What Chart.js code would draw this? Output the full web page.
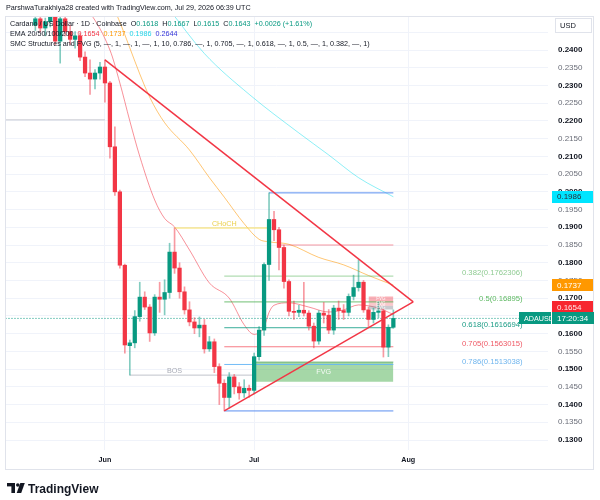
<!DOCTYPE html>
<html>
<head>
<meta charset="utf-8">
<script src="https://cdn.jsdelivr.net/npm/chart.js@4.4.1/dist/chart.umd.min.js"></script>
<style>
html,body{margin:0;padding:0;background:#ffffff;}
#wrap{position:relative;width:600px;height:500px;}
canvas{display:block;}
</style>
</head>
<body>
<div id="wrap"><canvas id="chart" width="600" height="500"></canvas></div>
<script>
// ================= DATA =================
const candleDates = [
 '05-18','05-19','05-20','05-21','05-22','05-23','05-24','05-25','05-26','05-27','05-28','05-29','05-30','05-31',
 '06-01','06-02','06-03','06-04','06-05','06-06','06-07','06-08','06-09','06-10','06-11','06-12','06-13','06-14','06-15',
 '06-16','06-17','06-18','06-19','06-20','06-21','06-22','06-23','06-24','06-25','06-26','06-27','06-28','06-29','06-30',
 '07-01','07-02','07-03','07-04','07-05','07-06','07-07','07-08','07-09','07-10','07-11','07-12','07-13','07-14','07-15',
 '07-16','07-17','07-18','07-19','07-20','07-21','07-22','07-23','07-24','07-25','07-26','07-27','07-28','07-29'];
const openPrices = [
 0.2470,0.2488,0.2462,0.2480,0.2495,0.2425,0.2488,0.2452,0.2430,0.2440,0.2380,0.2335,0.2318,0.2335,
 0.2352,0.2307,0.2127,0.2000,0.1793,0.1566,0.1574,0.1648,0.1703,0.1675,0.1602,0.1703,0.1697,0.1716,0.1830,
 0.1785,0.1718,0.1667,0.1633,0.1616,0.1624,0.1557,0.1577,0.1507,0.1460,0.1420,0.1478,0.1450,0.1433,0.1446,
 0.1440,0.1535,0.1610,0.1795,0.1922,0.1893,0.1843,0.1747,0.1663,0.1660,0.1666,0.1658,0.1621,0.1579,0.1658,
 0.1652,0.1610,0.1672,0.1665,0.1660,0.1705,0.1730,0.1745,0.1667,0.1640,0.1660,0.1664,0.1562,0.1618];
const highPrices = [
 0.2500,0.2498,0.2490,0.2505,0.2500,0.2502,0.2495,0.2470,0.2452,0.2448,0.2395,0.2372,0.2345,0.2365,
 0.2372,0.2312,0.2183,0.2005,0.1796,0.1582,0.1665,0.1745,0.1718,0.1682,0.1710,0.1745,0.1752,0.1855,0.1898,
 0.1800,0.1732,0.1690,0.1645,0.1647,0.1640,0.1592,0.1585,0.1515,0.1470,0.1490,0.1485,0.1462,0.1470,0.1455,
 0.1545,0.1620,0.1800,0.1997,0.1945,0.1900,0.1850,0.1752,0.1692,0.1680,0.1745,0.1665,0.1630,0.1665,0.1688,
 0.1668,0.1680,0.1692,0.1682,0.1712,0.1765,0.1808,0.1750,0.1675,0.1672,0.1690,0.1670,0.1625,0.1667];
const lowPrices = [
 0.2455,0.2450,0.2440,0.2465,0.2415,0.2363,0.2440,0.2415,0.2405,0.2370,0.2325,0.2275,0.2290,0.2318,
 0.2253,0.2095,0.1990,0.1785,0.1545,0.1483,0.1560,0.1635,0.1668,0.1578,0.1595,0.1660,0.1653,0.1700,0.1770,
 0.1700,0.1655,0.1622,0.1600,0.1591,0.1545,0.1550,0.1490,0.1400,0.1382,0.1390,0.1430,0.1415,0.1420,0.1420,
 0.1430,0.1525,0.1595,0.1750,0.1862,0.1780,0.1728,0.1650,0.1640,0.1648,0.1650,0.1610,0.1560,0.1570,0.1630,
 0.1600,0.1598,0.1640,0.1640,0.1650,0.1695,0.1720,0.1660,0.1620,0.1630,0.1645,0.1534,0.1535,0.1615];
const closePrices = [
 0.2488,0.2462,0.2480,0.2495,0.2425,0.2488,0.2452,0.2430,0.2440,0.2380,0.2335,0.2318,0.2335,0.2352,
 0.2307,0.2127,0.2000,0.1793,0.1568,0.1574,0.1648,0.1703,0.1675,0.1602,0.1703,0.1697,0.1716,0.1830,0.1785,
 0.1718,0.1667,0.1633,0.1616,0.1624,0.1557,0.1577,0.1507,0.1460,0.1420,0.1478,0.1450,0.1433,0.1446,0.1440,
 0.1535,0.1610,0.1795,0.1922,0.1893,0.1843,0.1747,0.1663,0.1660,0.1666,0.1658,0.1621,0.1579,0.1658,0.1652,
 0.1610,0.1672,0.1665,0.1660,0.1705,0.1730,0.1745,0.1667,0.1640,0.1660,0.1664,0.1562,0.1618,0.1643];

// EMA lines (read at sample dates)
const ema20Dates  = ['05-20','05-27','06-02','06-04','06-06','06-08','06-11','06-13','06-15','06-18','06-22','06-26','06-29','07-01','07-03','07-04','07-05','07-08','07-12','07-16','07-19','07-22','07-26','07-29'];
const ema20Values = [0.2620,0.2541,0.2400,0.2307,0.2200,0.2100,0.1977,0.1925,0.1901,0.1836,0.1743,0.1700,0.1625,0.1598,0.1619,0.1660,0.1680,0.1687,0.1675,0.1661,0.1667,0.1681,0.1672,0.1654];
const ema50Dates  = ['05-20','06-02','06-10','06-13','06-18','06-22','06-25','06-29','07-02','07-04','07-08','07-14','07-19','07-24','07-29'];
const ema50Values = [0.2800,0.2541,0.2267,0.2195,0.2118,0.2040,0.1985,0.1910,0.1866,0.1859,0.1852,0.1815,0.1794,0.1764,0.1737];
const ema100Dates  = ['06-06','06-14','06-21','06-30','07-10','07-16','07-22','07-29'];
const ema100Values = [0.2650,0.2513,0.2390,0.2275,0.2166,0.2104,0.2040,0.1986];

// Structure / drawings
const triUpperDates = ['06-01','08-02'];
const triUpperPrices = [0.2372,0.16895];
const triLowerDates = ['06-25','08-02'];
const triLowerPrices = [0.1382,0.16895];

const fibLevels = [0.382,0.5,0.618,0.705,0.786];
const fibPrices = [0.1762306,0.16895,0.1616694,0.1563015,0.1513038];
const fibRange = ['06-25','07-29'];
const swingHigh = 0.1997, swingHighRange = ['07-04','07-29'];
const swingLow = 0.1382, swingLowRange = ['06-25','07-29'];
const redLevel = 0.1850, redLevelRange = ['07-06','07-29'];
const chochPrice = 0.1898, chochRange = ['06-15','07-04'], chochLabelDate = '06-25';
const bosPrice = 0.1483, bosRange = ['06-06','07-01'], bosLabelDate = '06-15';
const oldLevel = 0.2203, oldLevelRange = ['05-12','06-01'];
const fvgTop = 0.1520, fvgBottom = 0.1464, fvgRange = ['07-01','07-29'], fvgLabelDate = '07-15';
const smallFvgRange = ['07-24','07-29'];
const smallFvgTops = [0.1705,0.1690,0.1679];
const smallFvgBottoms = [0.1690,0.1679,0.1668];
const lastPrice = 0.1643;
const fibLabelDate = '08-24';

const monthTickDates = ['06-01','07-01','08-01'];
const monthTickLabels = ['Jun','Jul','Aug'];
const priceTickValues = [0.130,0.135,0.140,0.145,0.150,0.155,0.160,0.165,0.170,0.175,0.180,0.185,0.190,0.195,0.200,0.205,0.210,0.215,0.220,0.225,0.230,0.235,0.240,0.245];
const priceTickLabels = ['0.1300','0.1350','0.1400','0.1450','0.1500','0.1550','0.1600','0.1650','0.1700','0.1750','0.1800','0.1850','0.1900','0.1950','0.2000','0.2050','0.2100','0.2150','0.2200','0.2250','0.2300','0.2350','0.2400',''];

const legendOHLC = ['0.1618','0.1667','0.1615','0.1643'];
const legendChange = '+0.0026 (+1.61%)';
const emaLast = ['0.1654','0.1737','0.1986','0.2644'];

// ================= HELPERS =================
const FONT = "'Liberation Sans', Arial, sans-serif";
const GREEN = '#089981', RED = '#f23645';
function dayIndex(md){ const [m,d] = md.split('-').map(Number); return Math.round((Date.UTC(2026,m-1,d) - Date.UTC(2026,5,1)) / 864e5); }
function fnt(size,bold){ return (bold ? 'bold ' : '') + size + 'px ' + FONT; }
function hline(range, price, color, order, extra){
  return Object.assign({type:'line', data:[{x:dayIndex(range[0]), y:price},{x:dayIndex(range[1]), y:price}],
    borderColor:color, borderWidth:1, pointRadius:0, fill:false, order:order}, extra||{});
}
function pts(dates, vals){ return dates.map((d,i)=>({x:dayIndex(d), y:vals[i]})); }
const isUp = i => closePrices[i] >= openPrices[i];

// ================= DATASETS =================
const datasets = [];
// triangle (top-most)
datasets.push({type:'line', data:pts(triUpperDates,triUpperPrices), borderColor:RED, borderWidth:1.5, pointRadius:0, fill:false, order:0});
datasets.push({type:'line', data:pts(triLowerDates,triLowerPrices), borderColor:RED, borderWidth:1.5, pointRadius:0, fill:false, order:0});
// candles
datasets.push({type:'bar', data:candleDates.map((d,i)=>({x:dayIndex(d), y:[openPrices[i], closePrices[i]]})),
  backgroundColor:c=>isUp(c.dataIndex)?GREEN:RED, barThickness:3.6, minBarLength:1, grouped:false, borderSkipped:false, borderWidth:0, order:2});
datasets.push({type:'bar', data:candleDates.map((d,i)=>({x:dayIndex(d), y:[lowPrices[i], highPrices[i]]})),
  backgroundColor:c=>isUp(c.dataIndex)?'rgba(8,153,129,0.5)':'rgba(242,54,69,0.5)', barThickness:1, grouped:false, borderSkipped:false, borderWidth:0, order:3});
// fib levels
const fibColors = ['rgba(76,175,80,0.55)','rgba(76,175,80,0.8)','rgba(8,153,129,0.8)','rgba(242,54,69,0.65)','rgba(100,181,246,0.9)'];
fibPrices.forEach((p,i)=>datasets.push(hline(fibRange,p,fibColors[i],4)));
datasets.push(hline(swingHighRange,swingHigh,'#5b8ff0',4));
datasets.push(hline(swingLowRange,swingLow,'#5b8ff0',4));
datasets.push(hline(redLevelRange,redLevel,'rgba(242,54,69,0.5)',4));
datasets.push(hline(chochRange,chochPrice,'#f6dc5a',4));
datasets.push(hline(bosRange,bosPrice,'#c0c3cb',4));
datasets.push(hline(oldLevelRange,oldLevel,'#c8cad1',4));
// FVG zones
datasets.push(hline(fvgRange,fvgTop,'rgba(56,142,60,0.55)',5,{fill:{value:fvgBottom}, backgroundColor:'rgba(76,175,80,0.5)'}));
const smallFvgColors = ['rgba(242,54,69,0.4)','rgba(242,54,69,0.28)','rgba(120,123,134,0.4)'];
smallFvgTops.forEach((t,i)=>datasets.push(hline(smallFvgRange,t,'rgba(0,0,0,0)',5,{borderWidth:0, fill:{value:smallFvgBottoms[i]}, backgroundColor:smallFvgColors[i]})));
// current price dotted line
datasets.push(hline(['05-12','08-30'],lastPrice,GREEN,6,{borderDash:[1,2]}));
// EMAs (below candles)
datasets.push({type:'line', data:pts(ema20Dates,ema20Values), borderColor:'rgba(242,54,69,0.55)', borderWidth:1, pointRadius:0, fill:false, cubicInterpolationMode:'monotone', order:8});
datasets.push({type:'line', data:pts(ema50Dates,ema50Values), borderColor:'rgba(255,152,0,0.55)', borderWidth:1, pointRadius:0, fill:false, cubicInterpolationMode:'monotone', order:8});
datasets.push({type:'line', data:pts(ema100Dates,ema100Values), borderColor:'rgba(0,220,235,0.45)', borderWidth:1, pointRadius:0, fill:false, cubicInterpolationMode:'monotone', order:8});

// ================= DECORATION PLUGIN =================
function runs(ctx,x,y,parts){ for(const [t,c] of parts){ ctx.fillStyle=c; ctx.fillText(t,x,y); x+=ctx.measureText(t).width; } }
function priceBox(ctx,yc,bg,fg,text,x0,x1){
  ctx.fillStyle=bg; ctx.fillRect(x0,Math.round(yc-6),x1-x0,12);
  ctx.fillStyle=fg; ctx.textAlign='left'; ctx.textBaseline='middle'; ctx.fillText(text,x0+5,yc+0.5);
}
const decor = {
  id:'decor',
  afterDraw(chart){
    const {ctx, chartArea:a, scales:{x:xs, y:ys}} = chart;
    const X = d => xs.getPixelForValue(dayIndex(d));
    const Y = p => ys.getPixelForValue(p);
    ctx.save();
    // in-plot labels
    ctx.save(); ctx.beginPath(); ctx.rect(a.left,a.top,a.right-a.left,a.bottom-a.top); ctx.clip();
    ctx.font = fnt(7.2); ctx.textAlign='center'; ctx.textBaseline='bottom';
    ctx.fillStyle='#ecd04a'; ctx.fillText('CHoCH', X(chochLabelDate), Y(chochPrice)-0.5);
    ctx.fillStyle='#a9acb6'; ctx.fillText('BOS', X(bosLabelDate), Y(bosPrice)-0.5);
    ctx.textBaseline='middle';
    ctx.fillStyle='rgba(255,255,255,0.9)'; ctx.fillText('FVG', X(fvgLabelDate), Y((fvgTop+fvgBottom)/2));
    ctx.font = fnt(4.5);
    const sx = (X(smallFvgRange[0])+X(smallFvgRange[1]))/2;
    smallFvgTops.forEach((t,i)=>{ ctx.fillStyle='rgba(255,255,255,0.9)'; ctx.fillText('FVG', sx, (Y(t)+Y(smallFvgBottoms[i]))/2); });
    const fibTextColors = ['#8fcb92','#5cb860','#1b9c85','#ef5a66','#6fb5ee'];
    ctx.font = fnt(7.7); ctx.textAlign='right'; ctx.textBaseline='middle';
    fibPrices.forEach((p,i)=>{ ctx.fillStyle=fibTextColors[i]; ctx.fillText(fibLevels[i]+'('+p+')', X(fibLabelDate), Y(p)-3); });
    ctx.restore();

    // pane frame
    ctx.strokeStyle='#e0e3eb'; ctx.lineWidth=1;
    ctx.strokeRect(5.5,16.5,588,453);

    // header
    ctx.font = fnt(7.2); ctx.textAlign='left'; ctx.textBaseline='middle';
    ctx.fillStyle='#131722';
    ctx.fillText('ParshwaTurakhiya28 created with TradingView.com, Jul 29, 2026 06:39 UTC', 6, 8);
    // legend
    const dark='#131722';
    runs(ctx,10,24.5,[['Cardano / US Dollar · 1D · Coinbase  ',dark],['O',dark],[legendOHLC[0],GREEN],['  H',dark],[legendOHLC[1],GREEN],['  L',dark],[legendOHLC[2],GREEN],['  C',dark],[legendOHLC[3],GREEN],['  '+legendChange,GREEN]]);
    runs(ctx,10,34.5,[['EMA 20/50/100/200  ',dark],[emaLast[0],'#f23645'],['  ',dark],[emaLast[1],'#ff9800'],['  ',dark],[emaLast[2],'#22d3e6'],['  ',dark],[emaLast[3],'#3535d8']]);
    runs(ctx,10,44.5,[['SMC Structures and FVG (5, —, 1, —, 1, —, 1, 10, 0.786, —, 1, 0.705, —, 1, 0.618, —, 1, 0.5, —, 1, 0.382, —, 1)',dark]]);

    // USD box
    ctx.fillStyle='#ffffff'; ctx.fillRect(555,18,37,15);
    ctx.strokeStyle='#e0e3eb'; ctx.strokeRect(555.5,18.5,36,14);
    ctx.fillStyle=dark; ctx.font=fnt(7.5); ctx.fillText('USD',560,26);

    // right axis price labels
    ctx.font = fnt(8);
    const curY = Y(lastPrice);
    priceBox(ctx, Y(ema100Values[ema100Values.length-1]), '#00e5ff', '#2a2e39', emaLast[2], 552, 593);
    priceBox(ctx, Y(ema50Values[ema50Values.length-1]), '#ff9800', '#ffffff', emaLast[1], 552, 593);
    priceBox(ctx, Math.min(Y(ema20Values[ema20Values.length-1]), curY-11.5), '#f7262f', '#ffe8ea', emaLast[0], 552, 593);
    ctx.font = fnt(7.2);
    priceBox(ctx, curY, GREEN, '#ffffff', 'ADAUSD', 519, 551);
    ctx.font = fnt(8);
    priceBox(ctx, curY, GREEN, '#ffffff', '17:20:34', 552, 594);

    // TradingView logo
    ctx.fillStyle='#131722';
    ctx.fillRect(7,483,8,3.4);
    ctx.fillRect(11.4,483,3.6,10);
    ctx.beginPath(); ctx.arc(17.8,485,1.8,0,Math.PI*2); ctx.fill();
    ctx.beginPath(); ctx.moveTo(20.3,483); ctx.lineTo(24.8,483); ctx.lineTo(21.2,493); ctx.lineTo(16.7,493); ctx.closePath(); ctx.fill();
    ctx.font = fnt(12,true); ctx.textBaseline='alphabetic'; ctx.textAlign='left';
    ctx.fillText('TradingView', 28, 493);
    ctx.restore();
  }
};

// ================= CHART =================
const PX_PER_UNIT = 3545.45; // layout helper only
new Chart(document.getElementById('chart'), {
  type:'bar',
  data:{datasets},
  options:{
    responsive:false, animation:false, devicePixelRatio:1,
    layout:{padding:{left:5, top:17, right:0, bottom:30}},
    plugins:{legend:{display:false}, tooltip:{enabled:false}},
    scales:{
      x:{type:'linear', min:-20.1, max:89.1, offset:false,
        grid:{color:'#f0f3fa', drawTicks:false, offset:false}, border:{display:false},
        afterBuildTicks:s=>{ s.ticks = monthTickDates.map(d=>({value:dayIndex(d)})); },
        afterFit:s=>{ s.height = 20; },
        ticks:{autoSkip:false, maxRotation:0, padding:6, color:'#131722', font:{family:FONT, size:7.2, weight:'bold'},
          callback:(v,i)=>monthTickLabels[i]}},
      y:{type:'linear', position:'right', min:0.12718, max:0.24931,
        grid:{color:'#f0f3fa', drawTicks:false}, border:{display:false},
        afterBuildTicks:s=>{ s.ticks = priceTickValues.map(v=>({value:v})); },
        afterFit:s=>{ s.width = 52; },
        ticks:{autoSkip:false, padding:10,
          color:c=> (c.tick && Math.round(c.tick.value*1000)%10===0) ? '#131722' : '#6a6d78',
          font:c=>({family:FONT, size:8, weight:(c.tick && Math.round(c.tick.value*1000)%10===0)?'bold':'normal'}),
          callback:(v,i)=>priceTickLabels[i]}}
    }
  },
  plugins:[decor]
});
</script>
</body>
</html>
